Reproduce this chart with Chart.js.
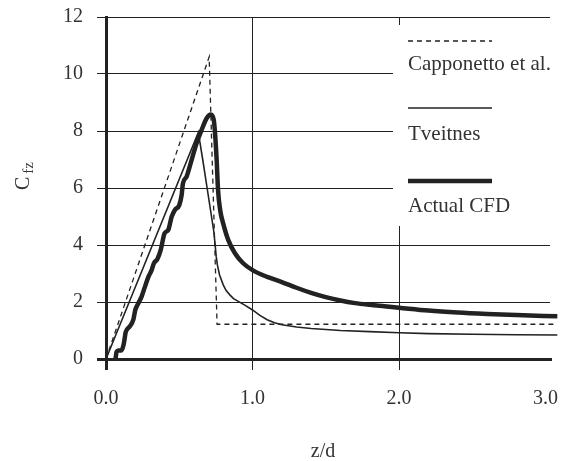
<!DOCTYPE html>
<html>
<head>
<meta charset="utf-8">
<script src="https://cdn.jsdelivr.net/npm/chart.js@4.4.0/dist/chart.umd.min.js"></script>
<style>
  html, body { margin: 0; padding: 0; background: #fff; }
</style>
</head>
<body>
<canvas id="myChart" width="563" height="461"></canvas>
<script>
// valores
const xTicks = [0, 1, 2, 3];
const yTicks = [0, 2, 4, 6, 8, 10, 12];
const seriesNames = ["Capponetto et al.", "Tveitnes", "Actual CFD"];

const capX = [0, 0.704, 0.758, 3.08];
const capY = [0, 10.6, 1.22, 1.22];

const tveX = [0, 0.63, 0.66, 0.69, 0.72, 0.735, 0.745, 0.752, 0.76, 0.775, 0.8, 0.82, 0.845, 0.87, 0.9, 0.95, 1.0, 1.05, 1.1, 1.15, 1.2, 1.3, 1.4, 1.6, 1.8, 2.0, 2.2, 2.5, 2.8, 3.08];
const tveY = [0, 7.95, 7.0, 6.0, 5.0, 4.5, 4.0, 3.6, 3.3, 2.95, 2.6, 2.4, 2.25, 2.12, 2.03, 1.88, 1.72, 1.53, 1.38, 1.27, 1.2, 1.12, 1.07, 1.0, 0.96, 0.92, 0.89, 0.87, 0.85, 0.84];

const cfdX = [0.065, 0.072, 0.085, 0.105, 0.12, 0.135, 0.16, 0.186, 0.2, 0.22, 0.243, 0.266, 0.29, 0.31, 0.327, 0.35, 0.373, 0.4, 0.425, 0.448, 0.47, 0.5, 0.516, 0.525, 0.55, 0.584, 0.618, 0.652, 0.686, 0.715, 0.735, 0.743, 0.755, 0.765, 0.78, 0.8, 0.834, 0.88, 0.936, 1.0, 1.1, 1.2, 1.3, 1.4, 1.5, 1.6, 1.7, 1.8, 1.9, 2.0, 2.2, 2.4, 2.6, 2.8, 3.08];
const cfdY = [0, 0.25, 0.3, 0.3, 0.5, 0.95, 1.13, 1.37, 1.72, 1.95, 2.19, 2.54, 2.89, 3.1, 3.36, 3.5, 3.82, 4.41, 4.53, 4.99, 5.23, 5.4, 5.75, 6.16, 6.4, 6.98, 7.57, 8.03, 8.44, 8.58, 8.4, 8.0, 7.0, 5.9, 5.2, 4.75, 4.18, 3.71, 3.36, 3.12, 2.88, 2.7, 2.5, 2.32, 2.17, 2.05, 1.96, 1.9, 1.85, 1.8, 1.7, 1.63, 1.58, 1.54, 1.5];

const FONT = "Liberation Serif";
const TXT = "#333";
const LINE = "#222";

function pts(xs, ys) {
  return xs.map((x, i) => ({ x: x, y: ys[i] }));
}

// sin relleno extra de las escalas, el layout manda
function noPad(s) {
  s.paddingTop = 0;
  s.paddingBottom = 0;
  s.paddingLeft = 0;
  s.paddingRight = 0;
}

// leyenda y titulos dibujados a mano
const extras = {
  id: "extras",
  afterDraw(chart) {
    const ctx = chart.ctx;
    const ds = chart.data.datasets;
    ctx.save();
    ctx.fillStyle = "#fff";
    ctx.fillRect(393, 25, 170, 201);

    const rows = [[41, 70], [108, 140], [181, 212]];
    rows.forEach((r, i) => {
      ctx.beginPath();
      ctx.setLineDash(ds[i].borderDash || []);
      ctx.lineWidth = ds[i].borderWidth;
      ctx.strokeStyle = LINE;
      ctx.moveTo(408, r[0]);
      ctx.lineTo(492, r[0]);
      ctx.stroke();
      ctx.setLineDash([]);
      ctx.fillStyle = TXT;
      ctx.font = "21px '" + FONT + "'";
      ctx.textAlign = "left";
      ctx.textBaseline = "alphabetic";
      ctx.fillText(seriesNames[i], 408, r[1]);
    });

    // titulo eje x
    ctx.font = "20px '" + FONT + "'";
    ctx.textAlign = "center";
    ctx.fillText("z/d", 323, 457);

    // titulo eje y con subindice
    ctx.translate(29, 190);
    ctx.rotate(-Math.PI / 2);
    ctx.textAlign = "left";
    ctx.fillText("C", 0, 0);
    const w = ctx.measureText("C").width;
    ctx.font = "15px '" + FONT + "'";
    ctx.fillText("fz", w + 3, 4);
    ctx.restore();
  }
};

const ctx = document.getElementById("myChart").getContext("2d");
new Chart(ctx, {
  type: "line",
  data: {
    datasets: [
      {
        label: seriesNames[0],
        data: pts(capX, capY),
        borderColor: LINE,
        borderWidth: 1.3,
        borderDash: [5, 4],
        pointRadius: 0,
        tension: 0,
        clip: false
      },
      {
        label: seriesNames[1],
        data: pts(tveX, tveY),
        borderColor: LINE,
        borderWidth: 1.6,
        pointRadius: 0,
        tension: 0,
        clip: false
      },
      {
        label: seriesNames[2],
        data: pts(cfdX, cfdY),
        borderColor: LINE,
        borderWidth: 4.5,
        pointRadius: 0,
        cubicInterpolationMode: "monotone",
        clip: false
      }
    ]
  },
  options: {
    responsive: false,
    animation: false,
    devicePixelRatio: 1,
    layout: { padding: { left: 0, top: 17, right: 13, bottom: 0 } },
    plugins: {
      legend: { display: false },
      tooltip: { enabled: false }
    },
    scales: {
      x: {
        type: "linear",
        min: 0,
        max: 3.03,
        afterBuildTicks: (s) => { s.ticks = xTicks.map(v => ({ value: v })); },
        afterFit: (s) => { s.height = 102; noPad(s); },
        ticks: {
          color: TXT,
          font: { family: FONT, size: 20 },
          padding: 17,
          maxRotation: 0,
          callback: (v) => v.toFixed(1)
        },
        grid: {
          color: (c) => (c.tick && c.tick.value === 3 ? "rgba(0,0,0,0)" : LINE),
          lineWidth: (c) => (c.tick && c.tick.value === 0 ? 3 : 1),
          tickLength: 11
        },
        border: { display: true, width: 3, color: LINE }
      },
      y: {
        min: 0,
        max: 12,
        afterBuildTicks: (s) => { s.ticks = yTicks.map(v => ({ value: v })); },
        afterFit: (s) => { s.width = 106; noPad(s); },
        ticks: {
          color: TXT,
          font: { family: FONT, size: 20 },
          padding: 14
        },
        grid: {
          color: LINE,
          lineWidth: (c) => (c.tick && c.tick.value === 0 ? 3 : 1),
          tickLength: 9
        },
        border: { display: true, width: 3, color: LINE }
      }
    }
  },
  plugins: [extras]
});
</script>
</body>
</html>
